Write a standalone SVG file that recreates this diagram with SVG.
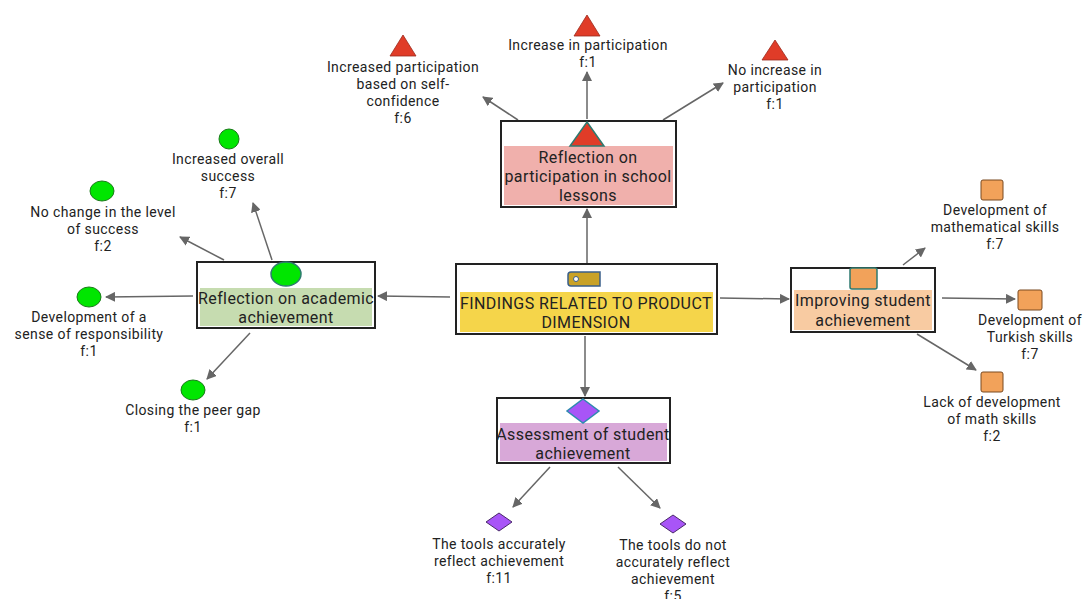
<svg xmlns="http://www.w3.org/2000/svg" width="1086" height="599" viewBox="0 0 1086 599">
<defs>
<style>
text{font-family:Roboto,"Open Sans","DejaVu Sans",sans-serif;fill:#222;text-anchor:middle}
.lbl{font-size:14px;letter-spacing:0.4px}
.nt{font-size:16px;letter-spacing:0.4px}
.box{fill:#fff;stroke:#222;stroke-width:2}
.ln{stroke:#666;stroke-width:1.5;fill:none;marker-end:url(#ah)}
.tri{fill:#e03c28;stroke:#9a2a1c;stroke-width:0.8}
.cir{fill:#00e600;stroke:#1a7a1a;stroke-width:1}
.sq{fill:#f2a25a;stroke:#7a4a20;stroke-width:1}
.dia{fill:#a855f7;stroke:#4a2a6a;stroke-width:1}
</style>
<marker id="ah" viewBox="0 0 10 10" refX="9" refY="5" markerWidth="10" markerHeight="10" markerUnits="userSpaceOnUse" orient="auto">
<path d="M0,0 L10,5 L0,10 z" fill="#666"/>
</marker>
</defs>
<rect width="1086" height="599" fill="#fff"/>
<g id="connectors">
<line class="ln" x1="587" y1="264" x2="587" y2="209"/>
<line class="ln" x1="450" y1="297" x2="378" y2="296"/>
<line class="ln" x1="720" y1="298" x2="789" y2="299"/>
<line class="ln" x1="585" y1="336" x2="585" y2="396"/>
<line class="ln" x1="518" y1="120" x2="483" y2="97"/>
<line class="ln" x1="587" y1="119" x2="587" y2="72"/>
<line class="ln" x1="663" y1="120" x2="723" y2="83"/>
<line class="ln" x1="272" y1="260" x2="253" y2="203"/>
<line class="ln" x1="224" y1="260" x2="180" y2="237"/>
<line class="ln" x1="193" y1="296" x2="106" y2="297"/>
<line class="ln" x1="250" y1="333" x2="207" y2="379"/>
<line class="ln" x1="903" y1="265" x2="925" y2="248"/>
<line class="ln" x1="942" y1="298" x2="1015" y2="299"/>
<line class="ln" x1="917" y1="334" x2="976" y2="370"/>
<line class="ln" x1="550" y1="467" x2="513" y2="507"/>
<line class="ln" x1="618" y1="467" x2="660" y2="508"/>
</g>
<g id="center">
<rect class="box" x="456" y="264" width="261" height="70"/>
<rect x="460" y="292" width="253" height="40" fill="#f5d54a"/>
<path d="M571,272 H600 V286 H571 Q568,286 568,283 V275 Q568,272 571,272 z" fill="#c9a227" stroke="#3a5f8a" stroke-width="1.5"/>
<circle cx="576" cy="279" r="2.5" fill="#fff" stroke="#3a5f8a" stroke-width="1"/>
<text class="nt" x="586" y="309">FINDINGS RELATED TO PRODUCT</text>
<text class="nt" x="586" y="328">DIMENSION</text>
</g>
<g id="participation">
<rect class="box" x="501" y="121" width="175" height="86"/>
<rect x="504" y="146" width="169" height="59" fill="#f0b0ac"/>
<polygon points="587,122 604,146 570,146" fill="#e03c28" stroke="#2e7a70" stroke-width="1.5"/>
<text class="nt" x="588" y="163">Reflection on</text>
<text class="nt" x="588" y="182">participation in school</text>
<text class="nt" x="588" y="201">lessons</text>
</g>
<g id="academic">
<rect class="box" x="197" y="262" width="178" height="66"/>
<rect x="200" y="288" width="172" height="38" fill="#c6dcb0"/>
<ellipse cx="286" cy="274" rx="15" ry="12" fill="#00e600" stroke="#2e7a70" stroke-width="1.5"/>
<text class="nt" x="286" y="304">Reflection on academic</text>
<text class="nt" x="286" y="323">achievement</text>
</g>
<g id="improving">
<rect class="box" x="791" y="268" width="144" height="64"/>
<rect x="794" y="290" width="138" height="40" fill="#f8cba2"/>
<rect x="850" y="268" width="27" height="21" rx="2" fill="#f2a25a" stroke="#2e7a70" stroke-width="1.5"/>
<text class="nt" x="863" y="306">Improving student</text>
<text class="nt" x="863" y="326">achievement</text>
</g>
<g id="assessment">
<rect class="box" x="497" y="398" width="173" height="65"/>
<rect x="500" y="423" width="167" height="38" fill="#d8a8d8"/>
<polygon points="583,399 599,411 583,423 567,411" fill="#a855f7" stroke="#2e8ab0" stroke-width="1.5"/>
<text class="nt" x="583" y="440">Assessment of student</text>
<text class="nt" x="583" y="459">achievement</text>
</g>
<g id="p1">
<polygon class="tri" points="403,35 416,56 390,56"/>
<text class="lbl" x="403" y="72">Increased participation</text>
<text class="lbl" x="403" y="89">based on self-</text>
<text class="lbl" x="403" y="106">confidence</text>
<text class="lbl" x="403" y="123">f:6</text>
</g>
<g id="p2">
<polygon class="tri" points="587,15 600,36 574,36"/>
<text class="lbl" x="588" y="50">Increase in participation</text>
<text class="lbl" x="588" y="67">f:1</text>
</g>
<g id="p3">
<polygon class="tri" points="775,40 788,60 762,60"/>
<text class="lbl" x="775" y="75">No increase in</text>
<text class="lbl" x="775" y="92">participation</text>
<text class="lbl" x="775" y="109">f:1</text>
</g>
<g id="a1">
<circle class="cir" cx="229" cy="139" r="10"/>
<text class="lbl" x="228" y="164">Increased overall</text>
<text class="lbl" x="228" y="181">success</text>
<text class="lbl" x="228" y="198">f:7</text>
</g>
<g id="a2">
<ellipse class="cir" cx="102" cy="191" rx="12" ry="10" stroke="none"/>
<text class="lbl" x="103" y="217">No change in the level</text>
<text class="lbl" x="103" y="234">of success</text>
<text class="lbl" x="103" y="251">f:2</text>
</g>
<g id="a3">
<ellipse class="cir" cx="89" cy="297" rx="12" ry="10" stroke="none"/>
<text class="lbl" x="89" y="322">Development of a</text>
<text class="lbl" x="89" y="339">sense of responsibility</text>
<text class="lbl" x="89" y="356">f:1</text>
</g>
<g id="a4">
<ellipse class="cir" cx="193" cy="390" rx="12" ry="10" stroke="none"/>
<text class="lbl" x="193" y="415">Closing the peer gap</text>
<text class="lbl" x="193" y="432">f:1</text>
</g>
<g id="i1">
<rect class="sq" x="981" y="180" width="22" height="20" rx="2"/>
<text class="lbl" x="995" y="215">Development of</text>
<text class="lbl" x="995" y="232">mathematical skills</text>
<text class="lbl" x="995" y="249">f:7</text>
</g>
<g id="i2">
<rect class="sq" x="1018" y="290" width="24" height="20" rx="2"/>
<text class="lbl" x="1030" y="325">Development of</text>
<text class="lbl" x="1030" y="342">Turkish skills</text>
<text class="lbl" x="1030" y="359">f:7</text>
</g>
<g id="i3">
<rect class="sq" x="981" y="372" width="22" height="20" rx="2"/>
<text class="lbl" x="992" y="407">Lack of development</text>
<text class="lbl" x="992" y="424">of math skills</text>
<text class="lbl" x="992" y="441">f:2</text>
</g>
<g id="s1">
<polygon class="dia" points="499,513 512,522 499,531 486,522"/>
<text class="lbl" x="499" y="549">The tools accurately</text>
<text class="lbl" x="499" y="566">reflect  achievement</text>
<text class="lbl" x="499" y="583">f:11</text>
</g>
<g id="s2">
<polygon class="dia" points="673,515 686,524 673,533 660,524"/>
<text class="lbl" x="673" y="550">The tools do not</text>
<text class="lbl" x="673" y="567">accurately reflect</text>
<text class="lbl" x="673" y="584">achievement</text>
<text class="lbl" x="673" y="601">f:5</text>
</g>
</svg>
